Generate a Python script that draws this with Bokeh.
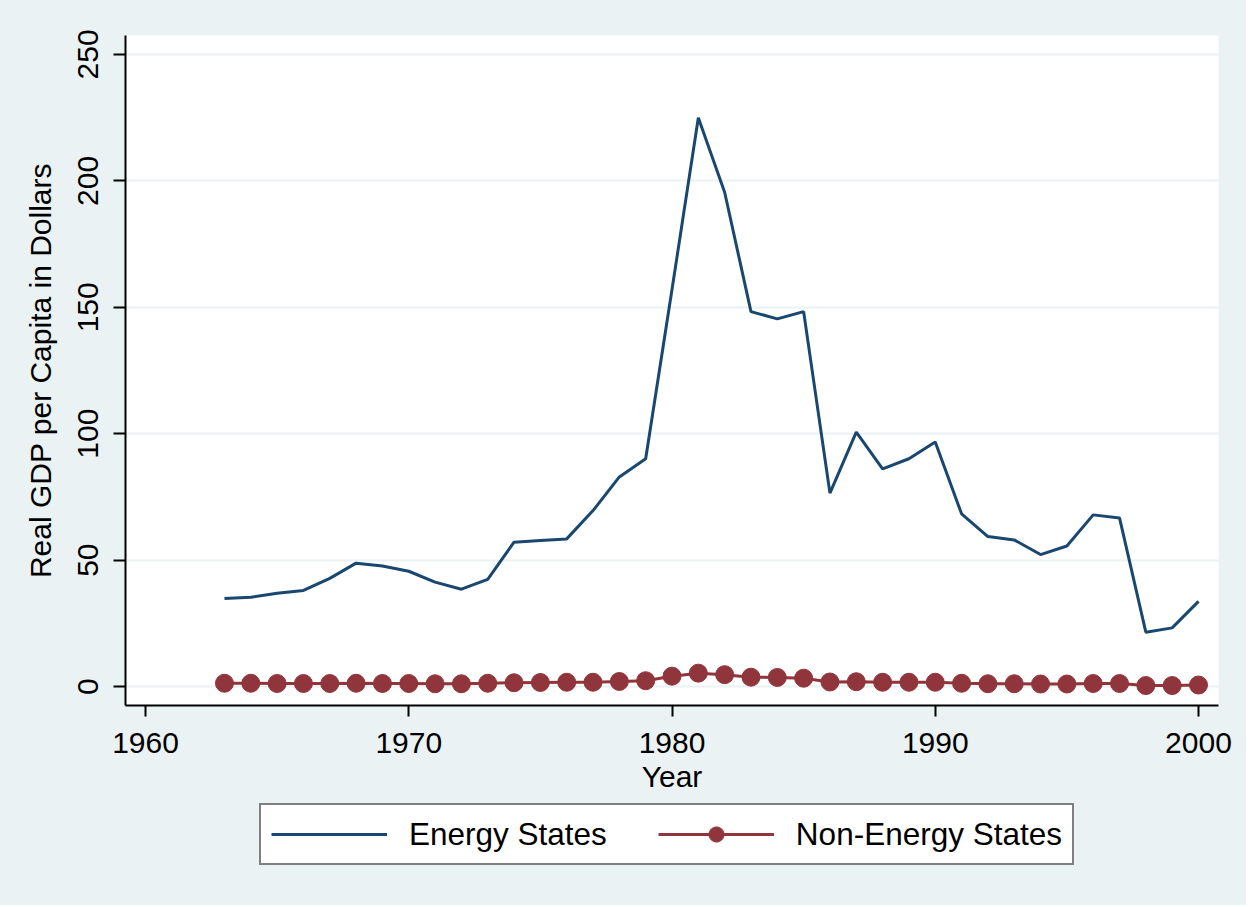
from bokeh.plotting import figure
from bokeh.layouts import column
from bokeh.models import Range1d, FixedTicker, Legend, LegendItem
from bokeh.embed import file_html
from bokeh.resources import INLINE

years = list(range(1963, 2001))
energy = [34.8, 35.3, 36.9, 38.0, 42.8, 48.8, 47.7, 45.6, 41.3, 38.5,
          42.4, 57.1, 57.8, 58.4, 69.6, 82.9, 90.1, 157.0, 225.0, 195.5,
          148.3, 145.4, 148.3, 76.5, 100.6, 86.1, 90.1, 96.7, 68.3, 59.3,
          58.0, 52.2, 55.6, 67.9, 66.7, 21.5, 23.2, 33.7]
non_energy = [1.3, 1.3, 1.2, 1.2, 1.2, 1.3, 1.2, 1.2, 1.1, 1.1,
              1.3, 1.5, 1.6, 1.7, 1.7, 2.0, 2.3, 4.1, 5.3, 4.7,
              3.7, 3.6, 3.3, 1.8, 1.9, 1.7, 1.7, 1.7, 1.3, 1.1,
              1.1, 1.0, 1.0, 1.2, 1.2, 0.4, 0.4, 0.6]
x_ticks = [1960, 1970, 1980, 1990, 2000]
y_ticks = [0, 50, 100, 150, 200, 250]

BG = "#EAF2F3"
FONT = "Liberation Sans"
FS = "30px"
E_COLOR = "#1A476F"
N_COLOR = "#90353B"

p = figure(width=1246, height=800, output_backend="svg", toolbar_location=None,
           x_range=Range1d(1959.24, 2000.76), y_range=Range1d(-7.5, 257.5),
           min_border_left=125, min_border_right=28, min_border_top=35,
           min_border_bottom=95)
p.border_fill_color = BG
p.background_fill_color = "white"
p.outline_line_color = None

p.xgrid.grid_line_color = None
p.ygrid.grid_line_color = BG
p.ygrid.grid_line_width = 2
p.yaxis.ticker = FixedTicker(ticks=y_ticks)
p.xaxis.ticker = FixedTicker(ticks=x_ticks)

for ax in (p.xaxis[0], p.yaxis[0]):
    ax.axis_line_color = "black"
    ax.axis_line_width = 2
    ax.major_tick_line_color = "black"
    ax.major_tick_line_width = 2
    ax.major_tick_in = 0
    ax.minor_tick_line_color = None
    ax.major_label_text_font = FONT
    ax.major_label_text_font_size = FS
    ax.major_label_text_color = "black"
    ax.axis_label_text_font = FONT
    ax.axis_label_text_font_size = FS
    ax.axis_label_text_font_style = "normal"
    ax.axis_label_text_color = "black"

p.xaxis.major_tick_out = 11
p.yaxis.major_tick_out = 12
p.xaxis.major_label_standoff = 16
p.yaxis.major_label_standoff = 15
p.yaxis.major_label_orientation = "vertical"
p.xaxis.axis_label = "Year"
p.yaxis.axis_label = "Real GDP per Capita in Dollars"
p.xaxis.axis_label_standoff = 4
p.yaxis.axis_label_standoff = 19

p.line(years, energy, line_color=E_COLOR, line_width=3)
p.line(years, non_energy, line_color=N_COLOR, line_width=3)
p.scatter(years, non_energy, size=18, fill_color=N_COLOR, line_color=N_COLOR)

# legend strip below the chart (same series, drawn outside its visible range)
p2 = figure(width=1246, height=105, output_backend="svg", toolbar_location=None,
            x_range=Range1d(0, 1), y_range=Range1d(0, 1),
            x_axis_type=None, y_axis_type=None,
            min_border_left=0, min_border_right=0, min_border_top=0,
            min_border_bottom=0)
p2.border_fill_color = BG
p2.background_fill_color = BG
p2.outline_line_color = None
p2.grid.grid_line_color = None

l_e = p2.line(years, energy, line_color=E_COLOR, line_width=3)
l_nl = p2.line(years, non_energy, line_color=N_COLOR, line_width=3)
l_ns = p2.scatter(years, non_energy, size=18, fill_color=N_COLOR, line_color=N_COLOR)

legend = Legend(items=[LegendItem(label="Energy States", renderers=[l_e]),
                       LegendItem(label="Non-Energy States", renderers=[l_nl, l_ns])],
                orientation="horizontal", location=(134, 40),
                label_text_font=FONT, label_text_font_size="31.5px",
                label_text_color="black",
                glyph_width=116, glyph_height=38, label_standoff=22,
                spacing=51, padding=10, margin=0,
                border_line_color="black", border_line_width=2,
                background_fill_color="white", background_fill_alpha=1.0)
p2.add_layout(legend, "center")

layout = column(p, p2, spacing=0, styles={"background-color": BG})
open("out.html", "w").write(file_html(layout, INLINE))
